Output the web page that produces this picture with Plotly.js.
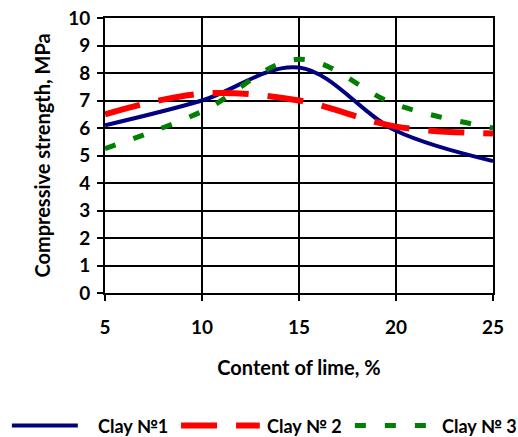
<!DOCTYPE html>
<html><head><meta charset="utf-8">
<script src="https://cdn.plot.ly/plotly-3.0.1.min.js"></script>
<style>html,body{margin:0;padding:0;background:#fff}#chart{width:518px;height:437px}</style>
</head><body><div id="chart"></div>
<script>
const lime = [5, 10, 15, 20, 25];
const clay1 = [6.1, 7.0, 8.2, 5.9, 4.8];
const clay2 = [6.5, 7.25, 7.0, 6.05, 5.8];
const clay3 = [5.25, 6.6, 8.5, 6.85, 6.0];
const seriesNames = ["Clay №1", "Clay № 2", "Clay № 3"];
const xTicks = [5, 10, 15, 20, 25];
const yTicks = [0,1,2,3,4,5,6,7,8,9,10];
const xTitle = "Content of lime, %";
const yTitle = "Compressive strength, MPa";

const FONT = "Lato, 'Open Sans', sans-serif";
const colors = ["#000080", "#FF0000", "#008000"];
const dashes = ["solid", "36px,19px", "11px,19px"];
const widths = [4, 6, 5];
const ys = [clay1, clay2, clay3];

const traces = ys.map((y, i) => ({
  x: lime, y: y, type: "scatter", mode: "lines", name: seriesNames[i],
  line: {color: colors[i], width: widths[i], dash: dashes[i], shape: "spline", smoothing: 1},
  showlegend: false
}));

// custom legend (paper coords)
const legY = -0.482;
const legSamples = [[-0.240, -0.070, -0.023], [0.196, 0.399, 0.412], [0.644, 0.827, 0.863]];
const shapes = legSamples.map((s, i) => ({
  type: "line", xref: "paper", yref: "paper", x0: s[0], x1: s[1], y0: legY, y1: legY,
  line: {color: colors[i], width: widths[i], dash: dashes[i]}
}));
const annotations = legSamples.map((s, i) => ({
  xref: "paper", yref: "paper", x: s[2], y: legY, xanchor: "left", yanchor: "middle",
  text: seriesNames[i], showarrow: false,
  font: {family: FONT, size: 18, weight: "bold", color: "#000"}
}));

const axisCommon = {
  showgrid: true, gridcolor: "#000", gridwidth: 2,
  showline: true, linecolor: "#000", linewidth: 2, mirror: true,
  ticks: "outside", ticklen: 6, tickwidth: 2, tickcolor: "#000",
  zeroline: false,
  tickfont: {family: FONT, size: 19, weight: "bold", color: "#000"}
};

const layout = {
  width: 518, height: 437,
  margin: {l: 105, r: 25, t: 18, b: 144},
  paper_bgcolor: "#fff", plot_bgcolor: "#fff",
  xaxis: Object.assign({}, axisCommon, {
    range: [5, 25], tickvals: xTicks, ticktext: xTicks.map(String),
    ticklabelstandoff: 10,
    title: {text: xTitle, standoff: 24, font: {family: FONT, size: 20, weight: "bold", color: "#000"}}
  }),
  yaxis: Object.assign({}, axisCommon, {
    range: [0, 10], tickvals: yTicks, ticktext: yTicks.map(String),
    ticklabelstandoff: 3,
    title: {text: yTitle, standoff: 12, font: {family: FONT, size: 20, weight: "bold", color: "#000"}}
  }),
  shapes: shapes,
  annotations: annotations,
  showlegend: false
};

Plotly.newPlot("chart", traces, layout, {displayModeBar: false, staticPlot: true});
</script>
</body></html>
